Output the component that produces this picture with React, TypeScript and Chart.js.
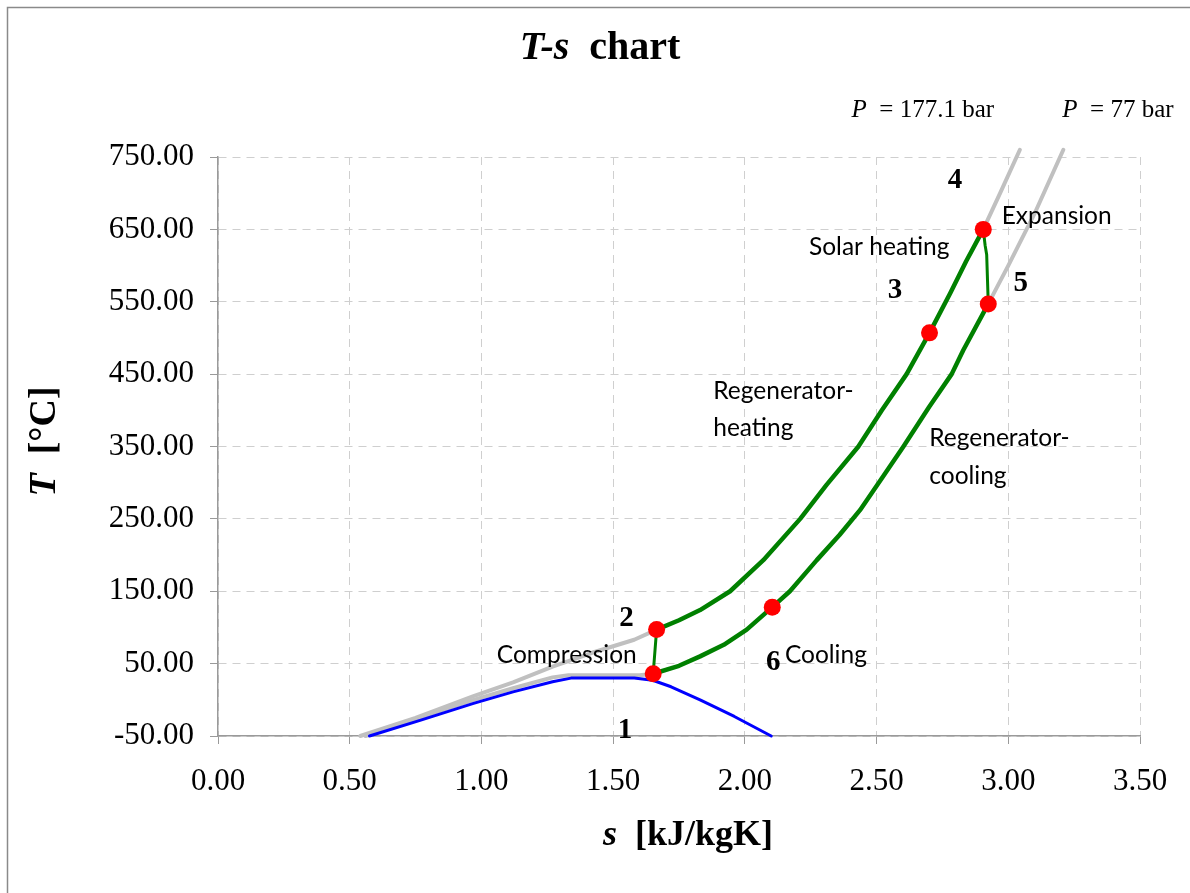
import React, { useEffect, useRef } from "react";
import { Chart, registerables } from "chart.js";

Chart.register(...registerables);

// ---- axes ----
const xTickValues = [0, 0.5, 1, 1.5, 2, 2.5, 3, 3.5];
const yTickValues = [-50, 50, 150, 250, 350, 450, 550, 650, 750];

// ---- saturation curve (blue) ----
const satS = [0.575, 0.77, 0.97, 1.12, 1.27, 1.34, 1.46, 1.58, 1.65, 1.72, 1.83, 1.96, 2.1];
const satT = [-50, -28, -5, 11, 25, 30, 30, 30, 27, 18, 0, -23, -50];

// ---- isobar P = 177.1 bar (grey parts) ----
const hpLowS = [0.54, 0.75, 0.97, 1.12, 1.27, 1.42, 1.58, 1.665];
const hpLowT = [-50, -25, 5, 24, 46, 65, 83, 97];
const hpHighS = [2.905, 2.969, 3.044];
const hpHighT = [650, 700, 760];

// ---- isobar P = 77 bar (grey parts) ----
const lpLowS = [0.56, 0.77, 0.97, 1.12, 1.27, 1.33, 1.45, 1.6, 1.652];
const lpLowT = [-50, -24, 0, 16, 31, 34, 34, 34, 36];
const lpHighS = [2.924, 3.0, 3.1, 3.209];
const lpHighT = [547, 600, 672, 760];

// ---- cycle (green) ----
const compS = [1.652, 1.665];
const compT = [36, 97];
const heatS = [1.665, 1.75, 1.83, 1.944, 2.07, 2.21, 2.31, 2.431, 2.52, 2.614, 2.701, 2.78, 2.84, 2.905];
const heatT = [97, 110, 124, 150, 193, 250, 297, 350, 400, 450, 507, 562, 606, 650];
const expS = [2.905, 2.912, 2.918, 2.924];
const expT = [650, 628, 615, 547];
const coolS = [1.652, 1.75, 1.83, 1.92, 2.007, 2.104, 2.171, 2.273, 2.36, 2.437, 2.52, 2.602, 2.7, 2.785, 2.829, 2.924];
const coolT = [36, 47, 60, 76, 97, 128, 150, 193, 228, 262, 306, 350, 405, 450, 483, 547];

// ---- state points 1..6 ----
const stateS = [1.652, 1.665, 2.701, 2.905, 2.924, 2.104];
const stateT = [36, 97, 507, 650, 547, 128];

const SERIF = '"Liberation Serif", "Times New Roman", serif';
const SANS = 'Lato, "Open Sans", sans-serif';
const NUM = `bold 29px ${SERIF}`;
const LBL = `24.5px ${SANS}`;
const PIT = `italic 25px ${SERIF}`;
const PRG = `25px ${SERIF}`;

type Run = { text: string; font: string };
type Ann = { runs: Run[]; s: number; t: number; align: "left" | "center" | "right" };

const annotations: Ann[] = [
  { runs: [{ text: "1", font: NUM }], s: 1.545, t: -42, align: "center" },
  { runs: [{ text: "2", font: NUM }], s: 1.551, t: 113, align: "center" },
  { runs: [{ text: "3", font: NUM }], s: 2.57, t: 566, align: "center" },
  { runs: [{ text: "4", font: NUM }], s: 2.798, t: 718, align: "center" },
  { runs: [{ text: "5", font: NUM }], s: 3.047, t: 575, align: "center" },
  { runs: [{ text: "6", font: NUM }], s: 2.108, t: 52, align: "center" },
  { runs: [{ text: "Compression", font: LBL }], s: 1.324, t: 62, align: "center" },
  { runs: [{ text: "Cooling", font: LBL }], s: 2.152, t: 62, align: "left" },
  { runs: [{ text: "Expansion", font: LBL }], s: 2.975, t: 668, align: "left" },
  { runs: [{ text: "Solar heating", font: LBL }], s: 2.51, t: 626, align: "center" },
  { runs: [{ text: "Regenerator-", font: LBL }], s: 1.88, t: 427, align: "left" },
  { runs: [{ text: "heating", font: LBL }], s: 1.88, t: 376, align: "left" },
  { runs: [{ text: "Regenerator-", font: LBL }], s: 2.7, t: 361, align: "left" },
  { runs: [{ text: "cooling", font: LBL }], s: 2.7, t: 309, align: "left" },
  { runs: [{ text: "P", font: PIT }, { text: "  = 177.1 bar", font: PRG }], s: 2.405, t: 815, align: "left" },
  { runs: [{ text: "P", font: PIT }, { text: "  = 77 bar", font: PRG }], s: 3.205, t: 815, align: "left" },
];

function drawRuns(ctx: CanvasRenderingContext2D, runs: Run[], x: number, y: number, align: string) {
  let total = 0;
  const widths = runs.map((r) => {
    ctx.font = r.font;
    const w = ctx.measureText(r.text).width;
    total += w;
    return w;
  });
  let cx = align === "center" ? x - total / 2 : align === "right" ? x - total : x;
  ctx.textAlign = "left";
  ctx.textBaseline = "middle";
  runs.forEach((r, i) => {
    ctx.font = r.font;
    ctx.fillText(r.text, cx, y);
    cx += widths[i];
  });
}

const textPlugin = {
  id: "tsText",
  afterDraw(chart: any) {
    const { ctx, scales, chartArea } = chart;
    const xs = scales.x;
    const ys = scales.y;
    ctx.save();
    ctx.fillStyle = "#000";
    annotations.forEach((a) =>
      drawRuns(ctx, a.runs, xs.getPixelForValue(a.s), ys.getPixelForValue(a.t), a.align)
    );
    // chart title
    drawRuns(
      ctx,
      [
        { text: "T-s", font: `italic bold 40px ${SERIF}` },
        { text: "  chart", font: `bold 40px ${SERIF}` },
      ],
      600,
      49,
      "center"
    );
    // x axis title
    drawRuns(
      ctx,
      [
        { text: "s", font: `italic bold 36px ${SERIF}` },
        { text: "  [kJ/kgK]", font: `bold 36px ${SERIF}` },
      ],
      (chartArea.left + chartArea.right) / 2 + 9,
      836,
      "center"
    );
    // y axis title
    ctx.save();
    ctx.translate(45, (chartArea.top + chartArea.bottom) / 2 - 5);
    ctx.rotate(-Math.PI / 2);
    drawRuns(
      ctx,
      [
        { text: "T", font: `italic bold 38px ${SERIF}` },
        { text: "  [°C]", font: `bold 38px ${SERIF}` },
      ],
      0,
      0,
      "center"
    );
    ctx.restore();
    // outer frame
    ctx.strokeStyle = "#8a8a8a";
    ctx.lineWidth = 1.5;
    ctx.strokeRect(7.5, 7.5, chart.width + 20, chart.height + 20);
    ctx.restore();
  },
};

const pts = (s: number[], t: number[]) => s.map((v, i) => ({ x: v, y: t[i] }));

function lineSet(label: string, s: number[], t: number[], color: string, width: number, order: number) {
  return {
    label,
    data: pts(s, t),
    showLine: true,
    borderColor: color,
    backgroundColor: color,
    borderWidth: width,
    pointRadius: 0,
    pointHoverRadius: 0,
    tension: 0,
    borderJoinStyle: "round" as const,
    borderCapStyle: "round" as const,
    clip: false as const,
    order,
  };
}

export default function App() {
  const ref = useRef<HTMLCanvasElement>(null);
  useEffect(() => {
    if (!ref.current) return;
    const GREEN = "#008000";
    const GREY = "#c0c0c0";
    const chart = new Chart(ref.current, {
      type: "scatter",
      data: {
        datasets: [
          {
            label: "States",
            data: pts(stateS, stateT),
            pointRadius: 8.5,
            pointHoverRadius: 8.5,
            pointBackgroundColor: "#ff0000",
            pointBorderColor: "#ff0000",
            pointBorderWidth: 0,
            showLine: false,
            clip: false,
            order: 0,
          } as any,
          lineSet("Compression", compS, compT, GREEN, 3, 1),
          lineSet("Heating", heatS, heatT, GREEN, 4.5, 1),
          lineSet("Expansion", expS, expT, GREEN, 3, 1),
          lineSet("Cooling", coolS, coolT, GREEN, 4.5, 1),
          lineSet("Saturation", satS, satT, "#0000ff", 3, 2),
          lineSet("P177 low", hpLowS, hpLowT, GREY, 4, 3),
          lineSet("P177 high", hpHighS, hpHighT, GREY, 4, 3),
          lineSet("P77 low", lpLowS, lpLowT, GREY, 4, 3),
          lineSet("P77 high", lpHighS, lpHighT, GREY, 4, 3),
        ],
      },
      options: {
        responsive: false,
        animation: false,
        devicePixelRatio: 1,
        layout: { padding: { left: 0, top: 157, right: 50, bottom: 57 } },
        plugins: {
          legend: { display: false },
          title: { display: false },
          tooltip: { enabled: false },
        },
        scales: {
          x: {
            type: "linear",
            min: 0,
            max: 3.5,
            afterBuildTicks: (scale: any) => {
              scale.ticks = xTickValues.map((v) => ({ value: v }));
            },
            afterFit: (scale: any) => {
              scale.height = 100;
            },
            ticks: {
              callback: (v: any) => Number(v).toFixed(2),
              font: { family: SERIF, size: 31 },
              color: "#000",
              padding: 19,
              maxRotation: 0,
              autoSkip: false,
            },
            grid: {
              color: "#cfcfcf",
              lineWidth: 1,
              tickColor: "#9a9a9a",
              tickLength: 8,
              tickBorderDash: [],
            },
            border: { display: true, color: "#9a9a9a", width: 1.5, dash: [8, 6] },
          },
          y: {
            type: "linear",
            min: -50,
            max: 750,
            afterBuildTicks: (scale: any) => {
              scale.ticks = yTickValues.map((v) => ({ value: v }));
            },
            afterFit: (scale: any) => {
              scale.width = 218;
            },
            ticks: {
              callback: (v: any) => Number(v).toFixed(2),
              font: { family: SERIF, size: 31 },
              color: "#000",
              padding: 16,
              autoSkip: false,
            },
            grid: {
              color: "#cfcfcf",
              lineWidth: 1,
              tickColor: "#9a9a9a",
              tickLength: 8,
              tickBorderDash: [],
            },
            border: { display: true, color: "#9a9a9a", width: 1.5, dash: [8, 6] },
          },
        },
      },
      plugins: [textPlugin],
    });
    return () => chart.destroy();
  }, []);
  return (
    <div style={{ position: "absolute", left: 0, top: 0, width: 1190, height: 893, background: "#fff" }}>
      <canvas ref={ref} width={1190} height={893} style={{ display: "block" }} />
    </div>
  );
}
